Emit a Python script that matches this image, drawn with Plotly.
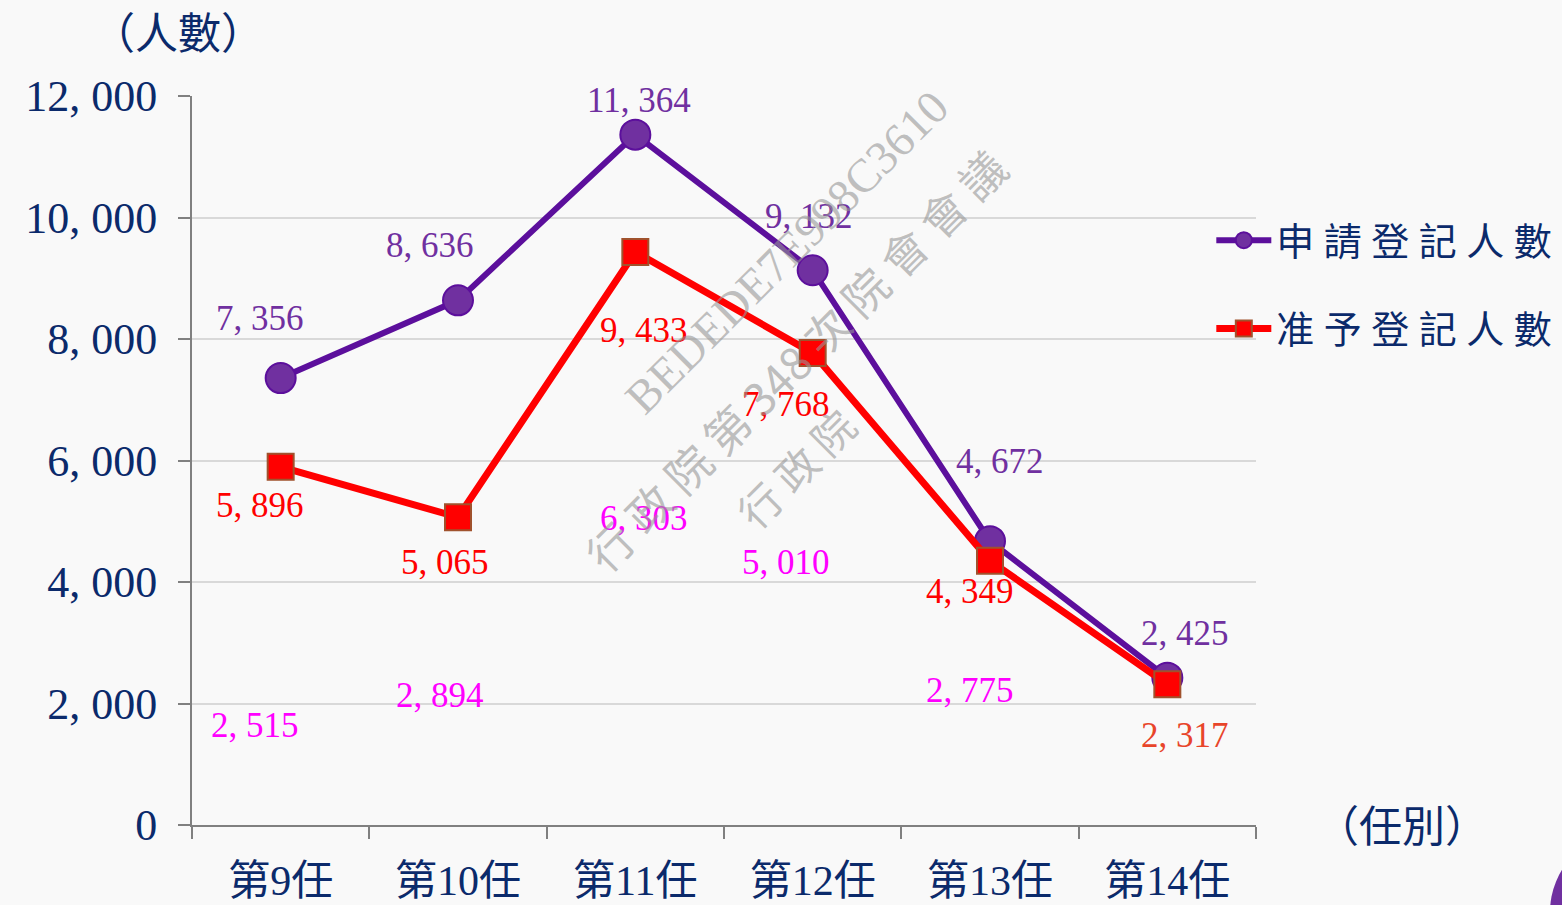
import plotly.graph_objects as go

categories = ["第9任", "第10任", "第11任", "第12任", "第13任", "第14任"]
applied = [7356, 8636, 11364, 9132, 4672, 2425]
approved = [5896, 5065, 9433, 7768, 4349, 2317]
extra_labels = [2515, 2894, 6303, 5010, 2775]
extra_label_y = [1646, 2140, 5053, 4329, 2222]
y_ticks = [0, 2000, 4000, 6000, 8000, 10000, 12000]
y_tick_labels = ["0", "2, 000", "4, 000", "6, 000", "8, 000", "10, 000", "12, 000"]

# label offsets (pixels)
applied_dx = [-21, -28, 4, -4, 10, 18]
applied_dy = [60, 55, 34, 54, 80, 44]
approved_dx = [-21, -13, 9, -27, -20, 18]
approved_dy = [-39, -45, -79, -51, -31, -51]
extra_dx = [-26, -18, 9, -27, -20]

FONT = "Liberation Serif, Noto Sans CJK TC, serif"
NAVY = "#0b2a6b"
PURPLE = "#5c0f9c"
PURPLE_FILL = "#7030a0"
RED = "#ff0000"
MAGENTA = "#ff00ff"


def fmt(v):
    return f"{v:,}".replace(",", ", ")


fig = go.Figure()
fig.add_trace(go.Scatter(
    x=categories, y=applied, mode="lines+markers", name="申 請 登 記 人 數",
    legendgroup="a",
    line=dict(color=PURPLE, width=6),
    marker=dict(symbol="circle", size=30, color=PURPLE_FILL, line=dict(color=PURPLE, width=2)),
))
fig.add_trace(go.Scatter(
    x=categories, y=approved, mode="lines+markers", name="准 予 登 記 人 數",
    legendgroup="b",
    line=dict(color=RED, width=7),
    marker=dict(symbol="square", size=26, color=RED, line=dict(color="#a0522d", width=2)),
))

ann = []
for c, v, dx, dy in zip(categories, applied, applied_dx, applied_dy):
    ann.append(dict(x=c, y=v, text=fmt(v), showarrow=False, xshift=dx, yshift=dy,
                    font=dict(family=FONT, size=35, color=PURPLE_FILL)))
for i, (c, v, dx, dy) in enumerate(zip(categories, approved, approved_dx, approved_dy)):
    col = "#e8452a" if i == len(categories) - 1 else RED
    ann.append(dict(x=c, y=v, text=fmt(v), showarrow=False, xshift=dx, yshift=dy,
                    font=dict(family=FONT, size=35, color=col)))
for c, v, yy, dx in zip(categories, extra_labels, extra_label_y, extra_dx):
    ann.append(dict(x=c, y=yy, text=fmt(v), showarrow=False, xshift=dx,
                    font=dict(family=FONT, size=35, color=MAGENTA)))

# axis titles
ann.append(dict(xref="paper", yref="paper", x=-0.013, y=1.084, xanchor="center", yanchor="middle",
                text="（人數）", showarrow=False,
                font=dict(family=FONT, size=43, color=NAVY)))
ann.append(dict(xref="paper", yref="paper", x=1.137, y=-0.004, xanchor="center", yanchor="middle",
                text="（任別）", showarrow=False,
                font=dict(family=FONT, size=43, color=NAVY)))

# watermark
WM = "rgba(150,150,150,0.6)"
ann.append(dict(xref="paper", yref="paper", x=0.559, y=0.786, xanchor="center", yanchor="middle",
                text="BEDEDE7E998C3610", showarrow=False,
                textangle=-45, font=dict(family="Liberation Serif, serif", size=47, color=WM)))
ann.append(dict(xref="paper", yref="paper", x=0.567, y=0.638, xanchor="center", yanchor="middle",
                text="行 政 院 第 348 次 院 會 會 議", showarrow=False,
                textangle=-45, font=dict(family="Noto Sans CJK TC", size=45, color=WM)))
ann.append(dict(xref="paper", yref="paper", x=0.567, y=0.490, xanchor="center", yanchor="middle",
                text="行 政 院", showarrow=False,
                textangle=-45, font=dict(family="Noto Sans CJK TC", size=42, color=WM)))

fig.update_layout(
    width=1562, height=905,
    margin=dict(l=192, r=306, t=96, b=80, autoexpand=False),
    paper_bgcolor="#f9f9f9", plot_bgcolor="#f9f9f9",
    font=dict(family=FONT, color=NAVY),
    annotations=ann,
    showlegend=True,
    legend=dict(x=0.958, y=0.845, xanchor="left", yanchor="top",
                font=dict(family=FONT, size=38, color=NAVY),
                bgcolor="rgba(0,0,0,0)", tracegroupgap=36, itemsizing="trace", itemwidth=55),
    shapes=[dict(type="circle", xref="paper", yref="paper",
                 x0=(1550 - 192) / 1064, x1=(1710 - 192) / 1064,
                 y0=(825 - 992) / 729, y1=(825 - 832) / 729,
                 fillcolor="#7030a0", line=dict(width=0), layer="above")],
)
fig.update_xaxes(
    type="category", categoryorder="array", categoryarray=categories,
    range=[-0.5, len(categories) - 0.5],
    tickson="boundaries", ticks="outside", ticklen=12, tickwidth=2, tickcolor="#808080",
    showline=True, linecolor="#808080", linewidth=2, showgrid=False,
    tickfont=dict(family=FONT, size=42, color=NAVY), ticklabelstandoff=18,
)
fig.update_yaxes(
    range=[0, 12000], tickvals=y_ticks, ticktext=y_tick_labels,
    ticks="outside", ticklen=12, tickwidth=2, tickcolor="#808080",
    showline=True, linecolor="#808080", linewidth=2,
    showgrid=True, gridcolor="#d9d9d9", gridwidth=2, zeroline=False,
    tickfont=dict(family=FONT, size=44, color=NAVY), ticklabelstandoff=12,
)

fig.write_html(
    "out.html",
    config={"displayModeBar": False},
    post_script="document.body.style.margin='0';document.body.style.background='#f9f9f9';",
)
